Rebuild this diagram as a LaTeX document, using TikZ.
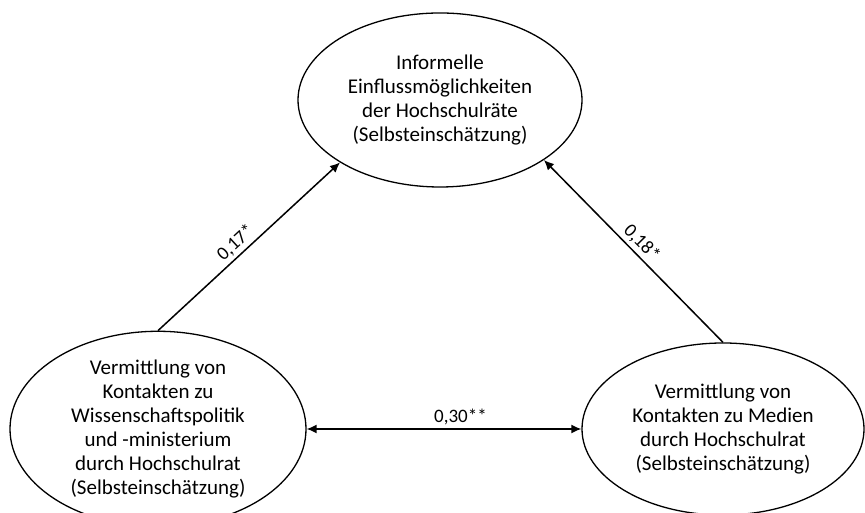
\documentclass[tikz,border=0pt]{standalone}
\usepackage{fontspec}
\setmainfont{Carlito}
\usetikzlibrary{arrows.meta,shapes.geometric}

\begin{document}
\begin{tikzpicture}[x=1pt,y=1pt,>={Latex[length=10pt,width=9pt]},
    konstrukt/.style={draw,ellipse,line width=1.3pt,inner sep=0pt,align=center,
      font=\fontsize{21}{24}\selectfont},
    pfad/.style={line width=1.5pt},
    koeff/.style={font=\fontsize{19}{22}\selectfont,inner sep=3pt}]
  \useasboundingbox (0,0) rectangle (865,513);
  \node[konstrukt,minimum width=284,minimum height=174] (einfluss) at (440,413)
    {Informelle\\Einflussmöglichkeiten\\der Hochschulräte\\(Selbsteinschätzung)};
  \node[konstrukt,minimum width=296,minimum height=172] (politik) at (158,84)
    {Vermittlung von\\Kontakten zu\\Wissenschaftspolitik\\und -ministerium\\durch Hochschulrat\\(Selbsteinschätzung)};
  \node[konstrukt,minimum width=282,minimum height=172] (medien) at (723,84)
    {Vermittlung von\\Kontakten zu Medien\\durch Hochschulrat\\(Selbsteinschätzung)};
  \draw[pfad,->] (politik.north) -- node[koeff,pos=0.47,sloped,above] {0,17*} (einfluss.-148);
  \draw[pfad,->] (medien.north) -- node[koeff,pos=0.5,sloped,above] {0,18*} (einfluss.-30);
  \draw[pfad,<->] (politik.east) -- node[koeff,pos=0.56,above] {0,30**} (medien.west);
\end{tikzpicture}
\end{document}
